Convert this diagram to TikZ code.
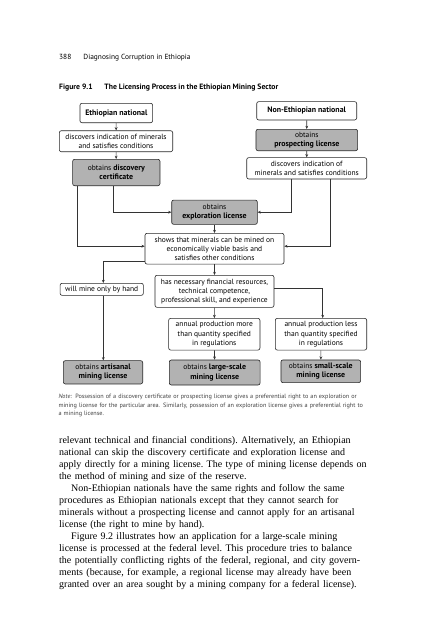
\documentclass[tikz,border=0pt]{standalone}
\usepackage{fontspec}
\setmainfont{Liberation Serif}
\setsansfont{PT Sans}
\usetikzlibrary{positioning}
\usetikzlibrary{arrows.meta}
\tikzset{flowbox/.style={draw=black!85, line width=0.6pt, rounded corners=2pt,
align=center, inner sep=1pt, fill=white,
font=\sffamily\fontsize{7.5}{9.2}\selectfont},
licbox/.style={flowbox, fill=black!30},
flow/.style={draw=black!80, line width=0.6pt, -{Stealth[length=3.2pt,width=2.8pt]}}}
\newcommand{\fullline}[1]{\makebox[307pt][s]{#1}}
\newcommand{\bt}[1]{{\bfseries\fontsize{7.9}{9.2}\selectfont #1}}

\begin{document}
\begin{tikzpicture}[x=1pt, y=-1pt,
    pagetext/.style={anchor=base west, inner sep=0pt},
    bodytext/.style={pagetext, text width=307pt, align=left,
      font=\frenchspacing\fontsize{10}{12}\selectfont}]
\useasboundingbox (0,0) rectangle (427,640);
% running head and caption
\node[pagetext, font=\sffamily\fontsize{7.4}{9}\selectfont] (head) at (59,59)
  {\makebox[24.3pt][l]{388}Diagnosing Corruption in Ethiopia};
\node[pagetext, font=\sffamily\bfseries\fontsize{7.7}{9}\selectfont] (caption) at (59,89)
  {\makebox[45.3pt][l]{Figure 9.1}The Licensing Process in the Ethiopian Mining Sector};
% Ethiopian branch
\node[flowbox, minimum width=72.7pt, minimum height=19.4pt] (eth) at (116.3,113)
  {\bt{Ethiopian national}};
\node[flowbox, minimum width=113.4pt, minimum height=21pt] (ethfind) at (116,141.2)
  {discovers indication of minerals\\and satisfies conditions};
\node[licbox, minimum width=87.3pt, minimum height=26.4pt] (disccert) at (116.3,172.5)
  {obtains \bt{discovery}\\\bt{certificate}};
% non-Ethiopian branch
\node[flowbox, minimum width=100pt, minimum height=18.3pt] (noneth) at (306.7,110.8)
  {\bt{Non-Ethiopian national}};
\node[licbox, minimum width=101.7pt, minimum height=21.4pt] (prosp) at (306.8,140)
  {obtains\\\bt{prospecting license}};
\node[flowbox, minimum width=120pt, minimum height=21.3pt] (nonfind) at (306.7,168.3)
  {discovers indication of\\minerals and satisfies conditions};
% common part
\node[licbox, minimum width=85.6pt, minimum height=24.3pt] (expl) at (214.5,212.2)
  {obtains\\\bt{exploration license}};
\node[flowbox, minimum width=139pt, minimum height=30.7pt] (viable) at (214.5,248.7)
  {shows that minerals can be mined on\\economically viable basis and\\satisfies other conditions};
\node[flowbox, minimum width=83.3pt, minimum height=12pt] (hand) at (101.7,289.3)
  {will mine only by hand};
\node[flowbox, minimum width=119pt, minimum height=32pt] (means) at (214.5,291.3)
  {has necessary financial resources,\\technical competence,\\professional skill, and experience};
\node[flowbox, minimum width=91.3pt, minimum height=31.7pt] (more) at (214.3,334.2)
  {annual production more\\than quantity specified\\in regulations};
\node[flowbox, minimum width=91.4pt, minimum height=31.7pt] (less) at (321,334.2)
  {annual production less\\than quantity specified\\in regulations};
\node[licbox, minimum width=79.4pt, minimum height=23.3pt] (artisanal) at (103,372.3)
  {obtains \bt{artisanal}\\\bt{mining license}};
\node[licbox, minimum width=90.7pt, minimum height=25pt] (large) at (214.7,372.5)
  {obtains \bt{large-scale}\\\bt{mining license}};
\node[licbox, minimum width=79.7pt, minimum height=22.7pt] (small) at (320.8,371.3)
  {obtains \bt{small-scale}\\\bt{mining license}};
% connectors
\draw[flow] (eth) -- (ethfind);
\draw[flow] (ethfind) -- (disccert);
\draw[flow] (noneth) -- (prosp);
\draw[flow] (prosp) -- (nonfind);
\draw[flow] ([xshift=-3pt]disccert.south) |- (expl.west);
\draw[flow] ([xshift=5pt]disccert.south west) |- ([yshift=2.5pt]viable.west);
\draw[flow] ([xshift=-15pt]nonfind.south) |- (expl.east);
\draw[flow] ([xshift=24pt]nonfind.south) |- ([yshift=2.5pt]viable.east);
\draw[flow] (expl) -- (viable);
\draw[flow] ([yshift=3.5pt]viable.south west) -| ([xshift=1.6pt]hand.north);
\draw[flow] (viable) -- (means);
\draw[flow] ([yshift=3pt]means.east) -| ([xshift=1.7pt]less.north);
\draw[flow] (means) -- (more);
\draw[flow] ([xshift=1.6pt]hand.south) -- ([xshift=1.6pt]hand.south |- artisanal.north);
\draw[flow] (more) -- (large);
\draw[flow] (less) -- (small);
% note under the figure
\node[pagetext, text width=315pt, align=left, text=black!75,
  font=\sffamily\fontsize{6.2}{8.7}\selectfont] (note) at (58.3,398.5)
  {\textit{Note:} Possession of a discovery certificate or prospecting license gives a preferential right to an exploration or\\
   mining license for the particular area. Similarly, possession of an exploration license gives a preferential right to\\
   a mining license.};
% running text
\node[bodytext] (body) at (59,443.5)
  {\fullline{relevant technical and financial conditions). Alternatively, an Ethiopian}\\
   \fullline{national can skip the discovery certificate and exploration license and}\\
   \fullline{apply directly for a mining license. The type of mining license depends on}\\
   the method of mining and size of the reserve.\\
   \fullline{\hspace*{12pt}Non-Ethiopian nationals have the same rights and follow the same}\\
   \fullline{procedures as Ethiopian nationals except that they cannot search for}\\
   \fullline{minerals without a prospecting license and cannot apply for an artisanal}\\
   license (the right to mine by hand).\\
   \fullline{\hspace*{12pt}Figure 9.2 illustrates how an application for a large-scale mining}\\
   \fullline{license is processed at the federal level. This procedure tries to balance}\\
   \fullline{the potentially conflicting rights of the federal, regional, and city govern-}\\
   \fullline{ments (because, for example, a regional license may already have been}\\
   \fullline{granted over an area sought by a mining company for a federal license).}};
\end{tikzpicture}
\end{document}
